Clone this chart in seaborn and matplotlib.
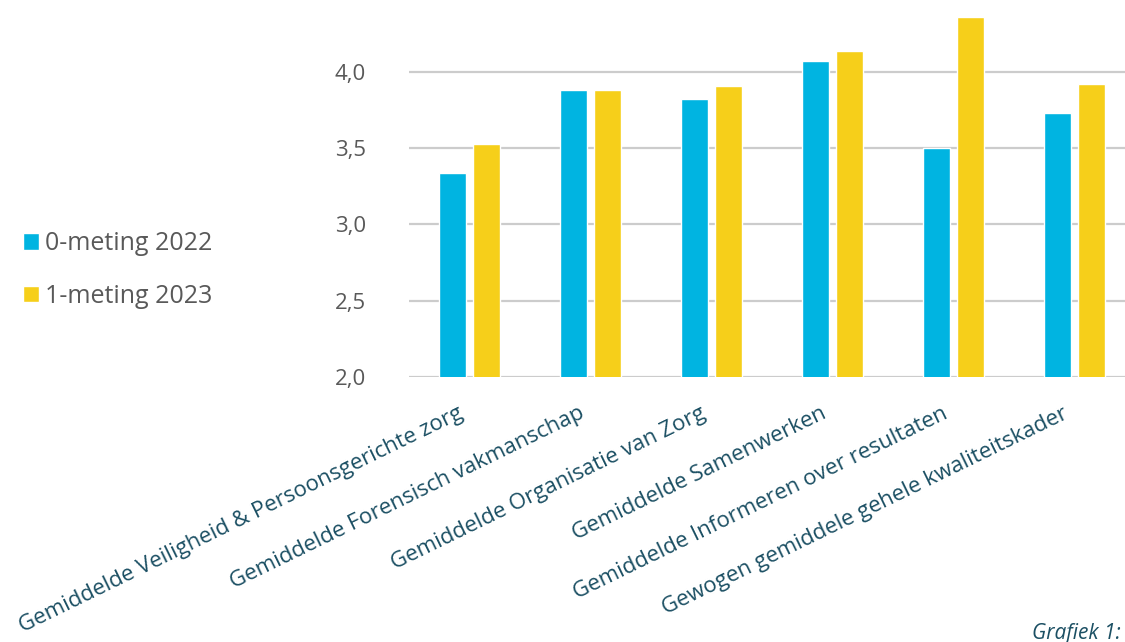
import matplotlib
matplotlib.use("Agg")
import matplotlib.pyplot as plt
import matplotlib.transforms as mtransforms
import seaborn as sns
import pandas as pd

categories = [
    "Gemiddelde Veiligheid & Persoonsgerichte zorg",
    "Gemiddelde Forensisch vakmanschap",
    "Gemiddelde Organisatie van Zorg",
    "Gemiddelde Samenwerken",
    "Gemiddelde Informeren over resultaten",
    "Gewogen gemiddele gehele kwaliteitskader",
]
series_names = ["0-meting 2022", "1-meting 2023"]
values_2022 = [3.34, 3.88, 3.82, 4.07, 3.50, 3.73]
values_2023 = [3.53, 3.88, 3.91, 4.14, 4.36, 3.92]
yticks = [2.0, 2.5, 3.0, 3.5, 4.0]
ytick_labels = ["2,0", "2,5", "3,0", "3,5", "4,0"]

colors = ["#00B4E1", "#F6CF1A"]
label_color = "#1B4F63"
tick_color = "#595959"

df = pd.DataFrame({
    "categorie": categories * 2,
    "meting": [series_names[0]] * len(categories) + [series_names[1]] * len(categories),
    "waarde": values_2022 + values_2023,
})

sns.set_theme(style="white")
plt.rcParams["font.family"] = ["Open Sans", "DejaVu Sans"]

fig = plt.figure(figsize=(11.25, 6.42), dpi=100)
ax = fig.add_axes([409 / 1125, 265 / 642, 726 / 1125, 377 / 642])

sns.barplot(data=df, x="categorie", y="waarde", hue="meting", hue_order=series_names,
            order=categories, palette=colors, width=0.56, gap=0.18, ax=ax,
            saturation=1, errorbar=None)

ax.set_ylim(2.0, 2.0 + 377 / 152.5)
ax.set_xlim(-0.5, 5.5)
ax.set_yticks(yticks)
ax.set_yticklabels(ytick_labels, color=tick_color, fontsize=16)
ax.yaxis.grid(True, color="#CCCCCC", linewidth=1.6)
ax.set_axisbelow(True)
for s in ax.spines.values():
    s.set_visible(False)
ax.tick_params(axis="both", length=0)
ax.tick_params(axis="y", pad=31)
ax.set_xlabel("")
ax.set_ylabel("")
ax.set_xticks(range(len(categories)))
ax.set_xticklabels(categories, rotation=26, ha="right", rotation_mode="anchor",
                   color=label_color, fontsize=16)
ax.tick_params(axis="x", pad=13)
offset = mtransforms.ScaledTranslation(-0.12, -0.08, fig.dpi_scale_trans)
for t in ax.get_xticklabels():
    t.set_transform(t.get_transform() + offset)

handles, labels = ax.get_legend_handles_labels()
if ax.legend_ is not None:
    ax.legend_.remove()
fig.legend(handles, labels, loc="center left", bbox_to_anchor=(0.0, 1 - 270 / 642),
           frameon=False, fontsize=18, handlelength=0.65, handleheight=0.65,
           handletextpad=0.25, labelspacing=1.1, labelcolor=tick_color)

fig.text(0.996, 0.03, "Grafiek 1:", ha="right", va="top", fontsize=15,
         style="italic", color=label_color)

fig.savefig("out.png", dpi=100)
